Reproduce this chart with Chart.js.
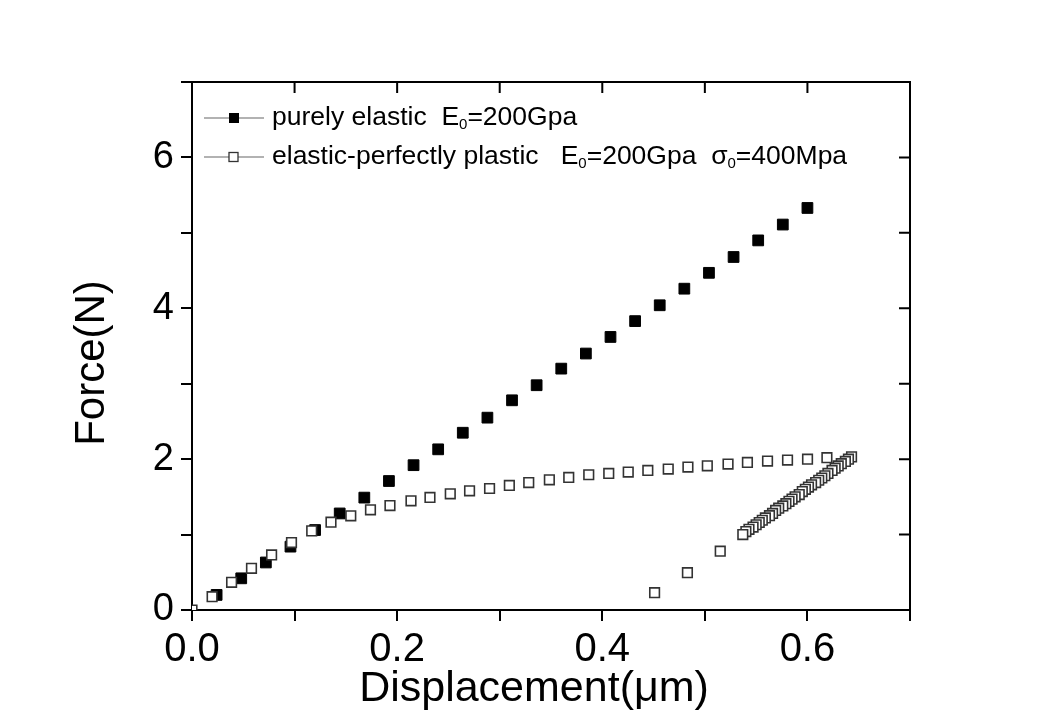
<!DOCTYPE html>
<html>
<head>
<meta charset="utf-8">
<script src="https://cdn.jsdelivr.net/npm/chart.js@4"></script>
<style>
  html, body { margin: 0; padding: 0; background: #fff; }
</style>
</head>
<body>
<canvas id="chart" width="1042" height="728"></canvas>
<script>
// purely elastic, E0 = 200 GPa
const elasticX = [0.024, 0.048, 0.072, 0.096, 0.120, 0.144, 0.168, 0.192, 0.216, 0.240,
                  0.264, 0.288, 0.312, 0.336, 0.360, 0.384, 0.408, 0.432, 0.456, 0.480,
                  0.504, 0.528, 0.552, 0.576, 0.600];
const elasticY = [0.20, 0.42, 0.63, 0.84, 1.06, 1.28, 1.49, 1.71, 1.92, 2.13,
                  2.35, 2.55, 2.78, 2.98, 3.20, 3.40, 3.62, 3.83, 4.04, 4.26,
                  4.47, 4.68, 4.90, 5.11, 5.33];

// elastic-perfectly plastic, loading
const plasticX = [0, 0.0196, 0.0386, 0.058, 0.0776, 0.097, 0.1167, 0.1355, 0.1548, 0.174,
                  0.193, 0.2135, 0.232, 0.2518, 0.2706, 0.2901, 0.3094, 0.3283, 0.3484, 0.3673,
                  0.3868, 0.4063, 0.4253, 0.4444, 0.4643, 0.4835, 0.5024, 0.5226, 0.5415, 0.5611,
                  0.5806, 0.6001, 0.619];
const plasticY = [0, 0.177, 0.367, 0.553, 0.73, 0.894, 1.049, 1.164, 1.248, 1.328,
                  1.385, 1.447, 1.492, 1.54, 1.58, 1.611, 1.651, 1.69, 1.726, 1.757,
                  1.793, 1.81, 1.829, 1.85, 1.868, 1.895, 1.912, 1.935, 1.956, 1.975,
                  1.988, 2.0, 2.02];

// elastic-perfectly plastic, unloading (from the peak down)
const unloadX = [0.643, 0.640, 0.637, 0.633, 0.630, 0.627, 0.624, 0.620, 0.617, 0.614,
                 0.611, 0.608, 0.604, 0.601, 0.598, 0.595, 0.592, 0.588, 0.585, 0.582,
                 0.579, 0.576, 0.572, 0.569, 0.566, 0.563, 0.559, 0.556, 0.553, 0.550,
                 0.547, 0.543, 0.540, 0.537, 0.515, 0.483, 0.451];
const unloadY = [2.03, 2.00, 1.97, 1.94, 1.91, 1.88, 1.85, 1.81, 1.78, 1.75,
                 1.72, 1.69, 1.66, 1.63, 1.60, 1.57, 1.53, 1.50, 1.47, 1.44,
                 1.41, 1.38, 1.35, 1.32, 1.28, 1.25, 1.22, 1.19, 1.16, 1.13,
                 1.10, 1.07, 1.04, 1.00, 0.78, 0.495, 0.23];

const FONT = '"Liberation Sans", Arial, sans-serif';

function toPoints(xs, ys) {
    return xs.map((x, i) => ({ x: x, y: ys[i] }));
}

// draws runs of text where some parts are subscripts
function drawRich(ctx, parts, x, y) {
    parts.forEach(p => {
        if (p.sub) {
            ctx.font = '15px ' + FONT;
            ctx.fillText(p.t, x, y + 7);
        } else {
            ctx.font = '26.5px ' + FONT;
            ctx.fillText(p.t, x, y);
        }
        x += ctx.measureText(p.t).width;
    });
}

const extras = {
    id: 'extras',
    afterDraw(chart) {
        const { ctx, chartArea: a, scales: { x, y } } = chart;
        ctx.save();

        // frame + inward ticks on top and right
        ctx.strokeStyle = '#000';
        ctx.lineWidth = 2;
        ctx.beginPath();
        ctx.moveTo(a.left, a.top);
        ctx.lineTo(a.right, a.top);
        ctx.lineTo(a.right, a.bottom);
        x.ticks.forEach(t => {
            const px = x.getPixelForValue(t.value);
            ctx.moveTo(px, a.top);
            ctx.lineTo(px, a.top + 11);
        });
        y.ticks.forEach(t => {
            const py = y.getPixelForValue(t.value);
            ctx.moveTo(a.right, py);
            ctx.lineTo(a.right - 11, py);
        });
        ctx.stroke();

        // axis titles
        ctx.fillStyle = '#000';
        ctx.textAlign = 'center';
        ctx.textBaseline = 'alphabetic';
        ctx.font = '43px ' + FONT;
        ctx.fillText('Displacement(\u03bcm)', (a.left + a.right) / 2 - 17, 701);
        ctx.save();
        ctx.font = '42px ' + FONT;
        ctx.translate(104, (a.top + a.bottom) / 2 + 17);
        ctx.rotate(-Math.PI / 2);
        ctx.fillText('Force(N)', 0, 0);
        ctx.restore();

        // legend
        const rows = [
            { y: 118, filled: true,
              parts: [{ t: 'purely elastic  E' }, { t: '0', sub: true }, { t: '=200Gpa' }] },
            { y: 157, filled: false,
              parts: [{ t: 'elastic-perfectly plastic   E' }, { t: '0', sub: true },
                      { t: '=200Gpa  \u03c3' }, { t: '0', sub: true }, { t: '=400Mpa' }] }
        ];
        rows.forEach(r => {
            ctx.strokeStyle = '#999';
            ctx.lineWidth = 1.5;
            ctx.beginPath();
            ctx.moveTo(204, r.y);
            ctx.lineTo(264, r.y);
            ctx.stroke();
            if (r.filled) {
                ctx.fillStyle = '#000';
                ctx.fillRect(229, r.y - 5, 10, 10);
            } else {
                ctx.fillStyle = '#fff';
                ctx.fillRect(229, r.y - 4.5, 9, 9);
                ctx.strokeStyle = '#333';
                ctx.lineWidth = 1.3;
                ctx.strokeRect(229, r.y - 4.5, 9, 9);
            }
            ctx.fillStyle = '#000';
            ctx.textAlign = 'left';
            ctx.textBaseline = 'middle';
            drawRich(ctx, r.parts, 272, r.y);
        });

        ctx.restore();
    }
};

new Chart(document.getElementById('chart'), {
    type: 'scatter',
    data: {
        datasets: [{
            label: 'elastic-perfectly plastic',
            data: toPoints(plasticX.concat(unloadX), plasticY.concat(unloadY)),
            pointStyle: 'rect',
            pointRadius: 6.8,
            backgroundColor: '#fff',
            borderColor: '#333',
            borderWidth: 1.6,
            order: 0,
            clip: 0
        }, {
            label: 'purely elastic',
            data: toPoints(elasticX, elasticY),
            pointStyle: 'rect',
            pointRadius: 7.6,
            backgroundColor: '#000',
            borderColor: '#000',
            borderWidth: 1,
            order: 1,
            clip: 0
        }]
    },
    options: {
        responsive: false,
        animation: false,
        layout: {
            padding: { top: 82, right: 132, left: 0, bottom: 0 }
        },
        plugins: {
            legend: { display: false },
            tooltip: { enabled: false }
        },
        scales: {
            x: {
                type: 'linear',
                min: 0,
                max: 0.7,
                afterFit: s => { s.height = 118; },
                ticks: {
                    stepSize: 0.1,
                    color: '#000',
                    padding: 5,
                    maxRotation: 0,
                    autoSkip: false,
                    font: { family: FONT, size: 40 },
                    callback: v => (Math.round(v * 10) % 2 === 0 ? v.toFixed(1) : '')
                },
                grid: {
                    drawOnChartArea: false,
                    color: '#000',
                    lineWidth: 2,
                    tickLength: 11
                },
                border: { color: '#000', width: 2 }
            },
            y: {
                type: 'linear',
                min: 0,
                max: 7,
                afterFit: s => { s.width = 192; },
                ticks: {
                    stepSize: 1,
                    color: '#000',
                    padding: 7,
                    autoSkip: false,
                    font: { family: FONT, size: 38 },
                    callback: v => (v % 2 === 0 ? v : '')
                },
                grid: {
                    drawOnChartArea: false,
                    color: '#000',
                    lineWidth: 2,
                    tickLength: 11
                },
                border: { color: '#000', width: 2 }
            }
        }
    },
    plugins: [extras]
});
</script>
</body>
</html>
